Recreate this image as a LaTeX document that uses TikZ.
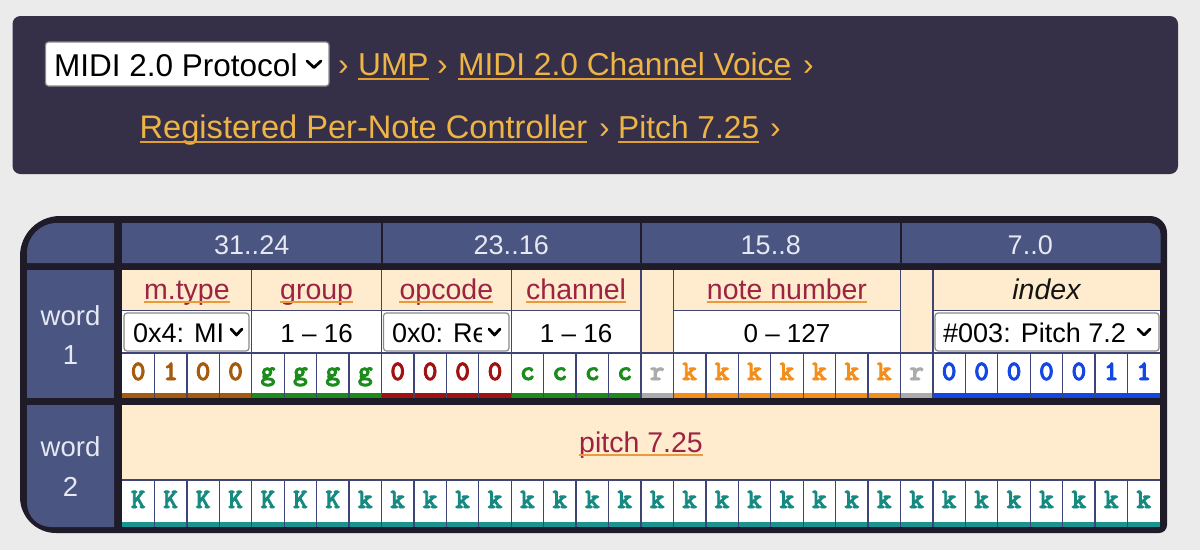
\documentclass[tikz,border=0pt]{standalone}
\usepackage{fontspec}
\setmainfont{Liberation Sans}
\newfontfamily\bitfont{lmmonolt10-bold.otf}[FakeBold=3]
\pgfmathdeclarefunction{bx}{1}{\pgfmathparse{122+32.4375*#1}}
\definecolor{pagebg}{HTML}{EBEBEB}
\definecolor{barbg}{HTML}{352F48}
\definecolor{gold}{HTML}{EEB445}
\definecolor{goldul}{HTML}{E3A032}
\definecolor{tdark}{HTML}{1F1B29}
\definecolor{slate}{HTML}{4A5681}
\definecolor{headtxt}{HTML}{E6E8F2}
\definecolor{cream}{HTML}{FFEBCD}
\definecolor{gridc}{HTML}{3E4475}
\definecolor{crimson}{HTML}{9C2341}
\definecolor{ulorange}{HTML}{E89A3E}
\definecolor{cbrown}{HTML}{A65A0C}
\definecolor{cgreen}{HTML}{1B8C1B}
\definecolor{cdred}{HTML}{A01212}
\definecolor{cgray}{HTML}{ABABAB}
\definecolor{corange}{HTML}{F48E1B}
\definecolor{cblue}{HTML}{1446E4}
\definecolor{cteal}{HTML}{168A80}
\definecolor{cteal2}{HTML}{1A9490}
\definecolor{ddgray}{HTML}{8A8A8A}
\begin{document}
\begin{tikzpicture}[x=1pt,y=-1pt,
  crumb/.style={anchor=base west, inner sep=0pt, text=gold, font=\fontsize{31.7}{36}\selectfont},
  crumbsep/.style={crumb},
  crumbul/.style={goldul, line width=2pt},
  hdr/.style={anchor=base, inner sep=0pt, text=headtxt, font=\fontsize{27}{30}\selectfont},
  wlbl/.style={anchor=base, inner sep=0pt, text=headtxt, font=\fontsize{27.5}{30}\selectfont},
  fname/.style={anchor=base, inner sep=0pt, text=crimson, font=\fontsize{28.5}{32}\selectfont},
  fnameul/.style={ulorange, line width=1.6pt},
  bitc/.style={anchor=base, inner sep=0pt, font=\bitfont\fontsize{28}{30}\selectfont},
  valtxt/.style={anchor=base, inner sep=0pt, text=black, font=\fontsize{26}{30}\selectfont},
  ddtxt/.style={anchor=base west, inner sep=0pt, text=black, font=\fontsize{27}{30}\selectfont},
  ddbox/.style={fill=white, draw=ddgray, line width=1.2pt, rounded corners=3pt},
  chev/.style={black, line width=2.8pt, line cap=round, line join=round},
  gridl/.style={gridc, line width=1.3pt},
  hsep/.style={tdark, line width=2pt}]
\useasboundingbox (0,0) rectangle (1200,550);
\fill[pagebg] (0,0) rectangle (1200,550);

% ---------- breadcrumb bar ----------
\fill[barbg, rounded corners=8pt] (12.5,16) rectangle (1178,174);
\fill[ddbox] (45.5,42) rectangle (329,86);
\node[crumb, text=black, font=\fontsize{31.5}{36}\selectfont] (proto) at (54,76) {MIDI 2.0 Protocol};
\draw[chev] (307,61) -- (314,67.5) -- (321,61);
\node[crumbsep] (s1) at (338,75.5) {›};
\node[crumb] (ump) at (358,75.5) {UMP};
\node[crumbsep] (s2) at (437,75.5) {›};
\node[crumb] (mcv) at (458,75.5) {MIDI 2.0 Channel Voice};
\node[crumbsep] (s3) at (803,75.5) {›};
\node[crumb, font=\fontsize{32.6}{36}\selectfont] (rpnc) at (139.5,138) {Registered Per-Note Controller};
\node[crumbsep] (s4) at (599,138) {›};
\node[crumb] (pit) at (618,138) {Pitch 7.25};
\node[crumbsep] (s5) at (770,138) {›};
\foreach \n in {ump,mcv,rpnc,pit}
  \draw[crumbul] ([yshift=-3.5pt]\n.base west) -- ([yshift=-3.5pt]\n.base east);

% ---------- table frame ----------
\fill[tdark] (60,216) -- (1150,216) arc[start angle=-90,end angle=0,radius=17]
  -- (1167,525) arc[start angle=0,end angle=90,radius=8]
  -- (56,533) arc[start angle=90,end angle=180,radius=36]
  -- (20,256) arc[start angle=180,end angle=270,radius=40] -- cycle;

% label column
\fill[slate] (57,223) -- (114,223) -- (114,263) -- (27,263) -- (27,253)
  arc[start angle=180,end angle=270,radius=30] -- cycle;
\fill[slate] (27,270) rectangle (114,398);
\fill[slate] (27,405) -- (114,405) -- (114,527) -- (51,527)
  arc[start angle=90,end angle=180,radius=24] -- cycle;
\node[wlbl] (w1a) at (70.5,325) {word};
\node[wlbl] (w1b) at (70.5,364) {1};
\node[wlbl] (w2a) at (70.5,456) {word};
\node[wlbl] (w2b) at (70.5,496) {2};

% header row
\fill[slate] (122,223) -- (1149.5,223) arc[start angle=-90,end angle=0,radius=11]
  -- (1160.5,263) -- (122,263) -- cycle;
\foreach \k in {8,16,24} \draw[hsep] ({bx(\k)},223) -- ({bx(\k)},263);
\node[hdr] (h1) at ({bx(4)},254) {31..24};
\node[hdr] (h2) at ({bx(12)},254) {23..16};
\node[hdr] (h3) at ({bx(20)},254) {15..8};
\node[hdr] (h4) at ({bx(28)},254) {7..0};

% ---------- word 1 ----------
\fill[cream] (122,270) rectangle (1160,353);
\foreach \a/\b in {0/4,4/8,8/12,12/16,17/24,25/32}
  \fill[white] ({bx(\a)},310.5) rectangle ({bx(\b)},353);
\fill[white] (122,353) rectangle (1160,393);
\foreach \i/\ch/\col in {0/0/cbrown,1/1/cbrown,2/0/cbrown,3/0/cbrown,
  4/g/cgreen,5/g/cgreen,6/g/cgreen,7/g/cgreen,
  8/0/cdred,9/0/cdred,10/0/cdred,11/0/cdred,
  12/c/cgreen,13/c/cgreen,14/c/cgreen,15/c/cgreen,
  16/r/cgray,
  17/k/corange,18/k/corange,19/k/corange,20/k/corange,21/k/corange,22/k/corange,23/k/corange,
  24/r/cgray,
  25/0/cblue,26/0/cblue,27/0/cblue,28/0/cblue,29/0/cblue,30/1/cblue,31/1/cblue}{
  \fill[\col] ({bx(\i)},393) rectangle ({bx(\i+1)},398);
  \node[bitc, text=\col] (wa\i) at ({bx(\i+0.5)},380) {\ch};
}
\draw[gridl] (122,353) -- (1160,353);
\foreach \i in {1,...,31} \draw[gridl] ({bx(\i)},353) -- ({bx(\i)},398);
\foreach \i in {4,8,12,16,17,24,25} \draw[gridl] ({bx(\i)},270) -- ({bx(\i)},353);
\foreach \a/\b in {0/4,4/8,8/12,12/16,17/24,25/32}
  \draw[gridl] ({bx(\a)},310.5) -- ({bx(\b)},310.5);

% field names
\node[fname] (fmt) at ({bx(2)},299.5) {m.type};
\node[fname] (fgr) at ({bx(6)},299.5) {group};
\node[fname] (fop) at ({bx(10)},299.5) {opcode};
\node[fname] (fch) at ({bx(14)},299.5) {channel};
\node[fname] (fnn) at ({bx(20.5)},299.5) {note number};
\node[fname, text=black!92, font=\itshape\fontsize{28.5}{32}\selectfont] (fix) at ({bx(28.5)},299.5) {index};
\foreach \n in {fmt,fgr,fop,fch,fnn}
  \draw[fnameul] ([yshift=-2.5pt]\n.base west) -- ([yshift=-2.5pt]\n.base east);

% values
\fill[ddbox] (124,313) rectangle (249,351);
\node[ddtxt] (vmt) at (133,342.5) {0x4: MI};
\draw[chev] (231,329) -- (236.5,335) -- (242,329);
\node[valtxt] (vgr) at ({bx(6)},342.5) {1 – 16};
\fill[ddbox] (383.5,313) rectangle (509,351);
\begin{scope}
  \clip (383.5,313) rectangle (481,351);
  \node[ddtxt] (vop) at (392,342.5) {0x0: Re};
\end{scope}
\draw[chev] (489,329) -- (494.5,335) -- (500,329);
\node[valtxt] (vch) at ({bx(14)},342.5) {1 – 16};
\node[valtxt] (vnn) at ({bx(20.5)},342.5) {0 – 127};
\fill[ddbox] (935,313) rectangle (1159,351);
\node[ddtxt] (vix) at (943,342.5) {\#003: Pitch 7.2};
\draw[chev] (1138,329) -- (1144,335) -- (1150,329);

% ---------- word 2 ----------
\fill[cream] (122,405) rectangle (1160,480);
\fill[white] (122,480) rectangle (1160,522);
\fill[cteal2] (122,522) rectangle (1160,527);
\foreach \i in {0,...,31}
  \node[bitc, text=cteal] (wb\i) at ({bx(\i+0.5)},508) {\ifnum\i<7 K\else k\fi};
\draw[gridl] (122,480) -- (1160,480);
\foreach \i in {1,...,31} \draw[gridl] ({bx(\i)},480) -- ({bx(\i)},527);
\node[fname] (fpitch) at ({bx(16)},452.5) {pitch 7.25};
\draw[fnameul] ([yshift=-2.5pt]fpitch.base west) -- ([yshift=-2.5pt]fpitch.base east);
\end{tikzpicture}
\end{document}
